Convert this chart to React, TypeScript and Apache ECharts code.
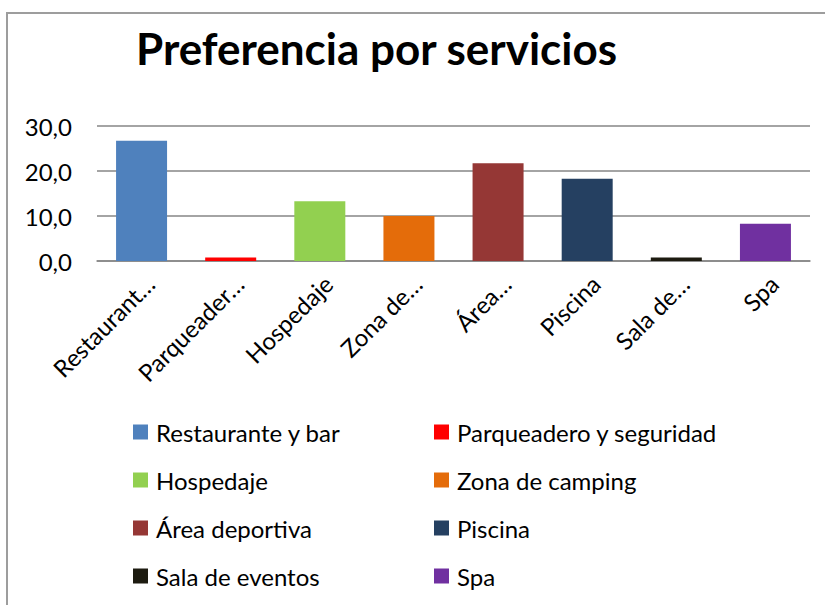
import React, { useEffect, useRef } from "react";
import * as echarts from "echarts";

const categories = [
  "Restaurante y bar",
  "Parqueadero y seguridad",
  "Hospedaje",
  "Zona de camping",
  "Área deportiva",
  "Piscina",
  "Sala de eventos",
  "Spa",
];
const tickLabels = [
  "Restaurant…",
  "Parqueader…",
  "Hospedaje",
  "Zona de…",
  "Área…",
  "Piscina",
  "Sala de…",
  "Spa",
];
const values = [26.7, 0.8, 13.3, 10.0, 21.7, 18.3, 0.8, 8.3];
const colors = [
  "#4F81BD",
  "#FF0000",
  "#92D050",
  "#E46C0A",
  "#953735",
  "#254061",
  "#1D1B10",
  "#7030A0",
];
const yTicks = { min: 0, max: 30, interval: 10 };
const legendLeftCol = [categories[0], categories[2], categories[4], categories[6]];
const legendRightCol = [categories[1], categories[3], categories[5], categories[7]];

const FONT = "Lato";

export default function App() {
  const ref = useRef<HTMLDivElement>(null);
  useEffect(() => {
    document.body.style.margin = "0";
    if (!ref.current) return;
    const chart = echarts.init(ref.current, undefined, { renderer: "svg" });
    const legendCommon = {
      orient: "vertical" as const,
      icon: "rect",
      itemWidth: 15,
      itemHeight: 15,
      itemGap: 24,
      padding: 0,
      selectedMode: false,
      textStyle: {
        fontFamily: FONT,
        fontSize: 24,
        lineHeight: 24,
        color: "#000",
        padding: [0, 0, 0, 3],
      },
    };
    chart.setOption({
      animation: false,
      color: colors,
      title: {
        text: "Preferencia por servicios",
        left: 136,
        top: 26,
        padding: 0,
        textStyle: {
          fontFamily: FONT,
          fontWeight: "bold",
          fontSize: 44,
          color: "#000",
        },
      },
      graphic: [
        {
          type: "polyline",
          shape: { points: [[7, 605], [7, 13], [825, 13]] },
          style: { stroke: "#9d9d9d", lineWidth: 2, fill: "none" },
        },
      ],
      legend: [
        { ...legendCommon, data: legendLeftCol, left: 133, top: 420 },
        { ...legendCommon, data: legendRightCol, left: 434, top: 420 },
      ],
      grid: { left: 97, right: 15, top: 126, bottom: 344, containLabel: false },
      xAxis: {
        type: "category",
        data: tickLabels,
        axisLine: { lineStyle: { color: "#868686", width: 1.5 } },
        axisTick: { show: false },
        axisLabel: {
          interval: 0,
          rotate: 45,
          fontFamily: FONT,
          fontSize: 24,
          color: "#000",
          margin: 10,
          verticalAlign: "top",
        },
      },
      yAxis: {
        type: "value",
        min: yTicks.min,
        max: yTicks.max,
        interval: yTicks.interval,
        axisLine: { show: false },
        axisTick: { show: false },
        splitLine: { lineStyle: { color: "#868686", width: 1.5 } },
        axisLabel: {
          fontFamily: FONT,
          fontSize: 24,
          color: "#000",
          margin: 25,
          formatter: (v: number) => v.toFixed(1).replace(".", ","),
        },
      },
      series: categories.map((name, i) => ({
        name,
        type: "bar",
        stack: "total",
        barWidth: 51,
        itemStyle: { color: colors[i] },
        data: values.map((v, j) => (j === i ? v : "-")),
      })),
    });
    return () => chart.dispose();
  }, []);
  return (
    <div
      ref={ref}
      style={{ position: "absolute", left: 0, top: 0, width: 825, height: 605 }}
    />
  );
}
